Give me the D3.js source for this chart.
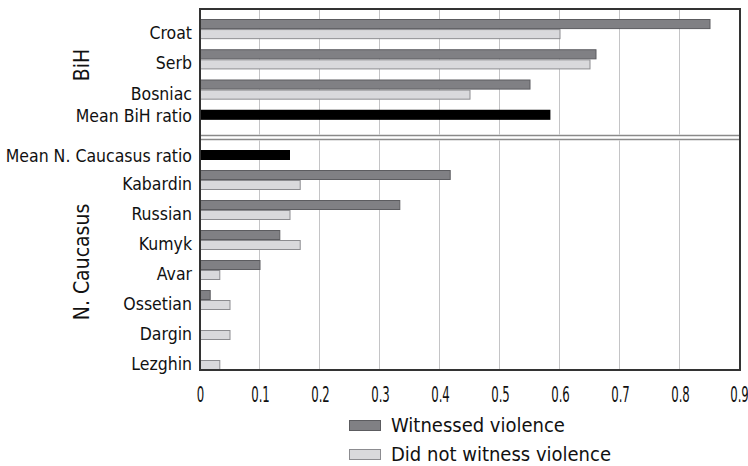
<!DOCTYPE html>
<html>
<head>
<meta charset="utf-8">
<script src="https://cdn.jsdelivr.net/npm/d3@7"></script>
<style>
  html, body { margin: 0; padding: 0; background: #fff; }
  svg { display: block; }
  text { font-family: "DejaVu Sans Condensed", "DejaVu Sans", sans-serif; font-stretch: condensed; fill: #111; }
</style>
</head>
<body>
<svg id="chart" width="748" height="466"></svg>
<script>
// ---- data ----
const categoriesBiH = ["Croat", "Serb", "Bosniac"];
const witnessedBiH = [0.85, 0.66, 0.55];
const notWitnessedBiH = [0.60, 0.65, 0.45];
const meanBiHLabel = "Mean BiH ratio";
const meanBiH = 0.584;

const categoriesNC = ["Kabardin", "Russian", "Kumyk", "Avar", "Ossetian", "Dargin", "Lezghin"];
const witnessedNC = [0.417, 0.333, 0.133, 0.10, 0.017, 0, 0];
const notWitnessedNC = [0.167, 0.15, 0.167, 0.033, 0.05, 0.05, 0.033];
const meanNCLabel = "Mean N. Caucasus ratio";
const meanNC = 0.15;

const xTicks = [0, 0.1, 0.2, 0.3, 0.4, 0.5, 0.6, 0.7, 0.8, 0.9];
const panelTitles = ["BiH", "N. Caucasus"];
const legendLabels = ["Witnessed violence", "Did not witness violence"];

// ---- layout ----
const svg = d3.select("#chart");
const plotL = 200, plotR = 740, plotT = 9, plotB = 370;
const sepTop = 135.5, sepBottom = 139.5;

const x = d3.scaleLinear().domain([0, 0.9]).range([plotL, plotR]);

const colDark = "#808084", colDarkStroke = "#5c5c60";
const colLight = "#d9d9dc", colLightStroke = "#8c8c90";

// gridlines
svg.append("g").selectAll("line")
  .data(xTicks.filter(t => t > 0 && t < 0.9))
  .join("line")
  .attr("x1", d => Math.round(x(d)) - 0.5).attr("x2", d => Math.round(x(d)) - 0.5)
  .attr("y1", plotT).attr("y2", plotB)
  .attr("stroke", "#c4c4c6").attr("stroke-width", 1);

// panel definitions
const panels = [
  {
    cats: categoriesBiH.concat([meanBiHLabel]),
    w: witnessedBiH, n: notWitnessedBiH, mean: meanBiH,
    meanIndex: categoriesBiH.length, meanSlot: 0,
    range: [19, 140], title: panelTitles[0], titleY: 65
  },
  {
    cats: [meanNCLabel].concat(categoriesNC),
    w: witnessedNC, n: notWitnessedNC, mean: meanNC,
    meanIndex: 0, meanSlot: 1,
    range: [140, 380], title: panelTitles[1], titleY: 262
  }
];

panels.forEach(p => {
  const y = d3.scaleBand().domain(p.cats).range(p.range).padding(0);
  const bh = y.step() / 3;
  const rows = p.cats.filter((c, i) => i !== p.meanIndex).map((c, i) => ({ cat: c, w: p.w[i], n: p.n[i] }));
  const g = svg.append("g");

  g.selectAll("rect.w").data(rows.filter(r => r.w > 0)).join("rect")
    .attr("x", x(0)).attr("y", r => y(r.cat) + 0.5)
    .attr("width", r => x(r.w) - x(0)).attr("height", bh - 1)
    .attr("fill", colDark).attr("stroke", colDarkStroke).attr("stroke-width", 1);
  g.selectAll("rect.n").data(rows.filter(r => r.n > 0)).join("rect")
    .attr("x", x(0)).attr("y", r => y(r.cat) + bh + 0.5)
    .attr("width", r => x(r.n) - x(0)).attr("height", bh - 1)
    .attr("fill", colLight).attr("stroke", colLightStroke).attr("stroke-width", 1);
  const meanCat = p.cats[p.meanIndex];
  g.append("rect")
    .attr("x", x(0)).attr("y", y(meanCat) + p.meanSlot * bh)
    .attr("width", x(p.mean) - x(0)).attr("height", bh)
    .attr("fill", "#000");

  g.selectAll("text.lab").data(rows).join("text")
    .attr("x", 192).attr("y", r => y(r.cat) + bh * 1.4)
    .attr("text-anchor", "end").attr("dominant-baseline", "central")
    .attr("font-size", 17.5).text(r => r.cat);
  g.append("text")
    .attr("x", 192).attr("y", y(meanCat) + p.meanSlot * bh + bh / 2 + 1)
    .attr("text-anchor", "end").attr("dominant-baseline", "central")
    .attr("font-size", 17.5).text(meanCat);

  svg.append("text")
    .attr("transform", `translate(82,${p.titleY}) rotate(-90)`)
    .attr("text-anchor", "middle").attr("dominant-baseline", "central")
    .attr("font-size", 21).text(p.title);
});

// frame
svg.append("rect").attr("x", plotL).attr("y", plotT).attr("width", plotR - plotL).attr("height", plotB - plotT)
  .attr("fill", "none").attr("stroke", "#333").attr("stroke-width", 2);
svg.append("rect").attr("x", plotL + 1).attr("y", sepTop - 1).attr("width", plotR - plotL - 2).attr("height", 6)
  .attr("fill", "#fff");
[sepTop, sepBottom].forEach(yy => {
  svg.append("line").attr("x1", plotL).attr("x2", plotR).attr("y1", yy).attr("y2", yy)
    .attr("stroke", "#8a8a8a").attr("stroke-width", 1.5);
});
svg.append("line").attr("x1", plotL).attr("x2", plotL).attr("y1", plotT).attr("y2", plotB)
  .attr("stroke", "#333").attr("stroke-width", 2);
svg.append("line").attr("x1", plotR).attr("x2", plotR).attr("y1", plotT).attr("y2", plotB)
  .attr("stroke", "#333").attr("stroke-width", 2);

// x axis labels
const axis = d3.axisBottom(x).tickValues(xTicks).tickSize(0).tickPadding(0)
  .tickFormat(d => d === 0 ? "0" : d3.format(".1f")(d));
const ax = svg.append("g").attr("transform", `translate(0,${plotB})`).call(axis);
ax.select(".domain").remove();
ax.selectAll(".tick text")
  .attr("y", 0).attr("dy", null)
  .attr("dominant-baseline", "central")
  .attr("font-size", 21)
  .attr("fill", "#111")
  .attr("font-family", null)
  .attr("transform", "translate(0,25) scale(0.62,1)");
ax.selectAll(".tick").filter(d => d === 0.9).select("text")
  .attr("transform", "translate(-1,25) scale(0.62,1)");

// legend
const legend = svg.append("g");
const legendFills = [[colDark, colDarkStroke], [colLight, colLightStroke]];
legendLabels.forEach((lab, i) => {
  const cy = 425 + i * 29;
  legend.append("rect").attr("x", 349.5).attr("y", cy - 4.5).attr("width", 31).attr("height", 10)
    .attr("fill", legendFills[i][0]).attr("stroke", legendFills[i][1]).attr("stroke-width", 1);
  legend.append("text").attr("x", 391).attr("y", cy).attr("dominant-baseline", "central")
    .attr("font-size", 20).text(lab);
});
</script>
</body>
</html>
